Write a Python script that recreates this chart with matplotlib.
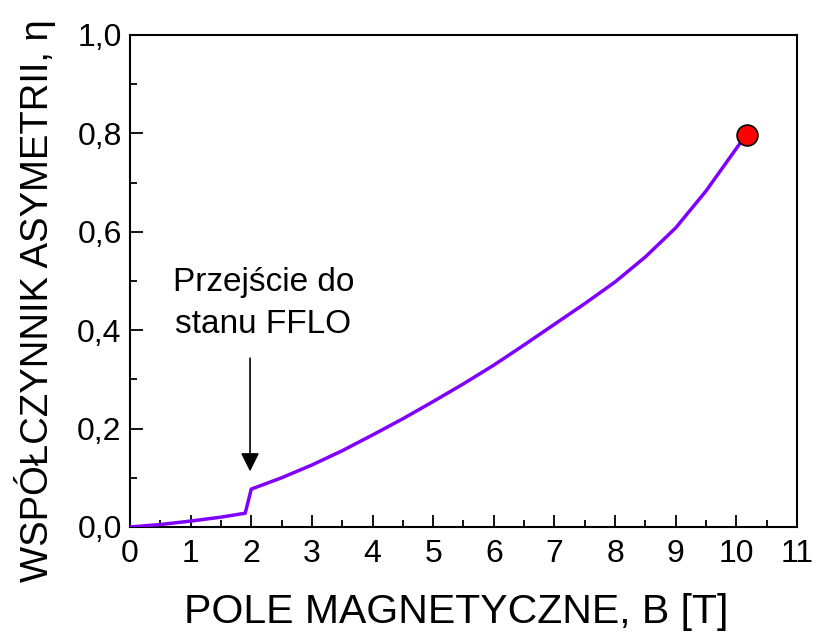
import matplotlib
matplotlib.use("Agg")
import matplotlib.pyplot as plt
from matplotlib.ticker import MultipleLocator, FuncFormatter

plt.rcParams['font.family'] = ['Liberation Sans', 'DejaVu Sans']

# dane
pole_b = [0.0, 0.5, 1.0, 1.5, 1.9, 2.0, 2.5, 3.0, 3.5, 4.0, 4.5, 5.0, 5.5, 6.0,
          6.5, 7.0, 7.5, 8.0, 8.5, 9.0, 9.5, 10.05]
eta = [0.0, 0.005, 0.012, 0.020, 0.028, 0.077, 0.100, 0.126, 0.155, 0.187,
       0.220, 0.255, 0.291, 0.329, 0.370, 0.412, 0.454, 0.498, 0.549, 0.608,
       0.683, 0.778]
punkt_b = [10.17]
punkt_eta = [0.797]

fig = plt.figure(figsize=(8.16, 6.35), dpi=100)
ax = fig.add_axes([0.1593, 0.1701, 0.8174, 0.7748])

ax.plot(pole_b, eta, color='#8000FF', lw=2.5, zorder=3)
ax.plot(punkt_b, punkt_eta, 'o', ms=15, mfc='#FF0000', mec='black', mew=1.2, zorder=4)

ax.annotate('', xy=(1.98, 0.113), xytext=(1.98, 0.343),
            arrowprops=dict(arrowstyle='-|>', color='black', lw=1.2,
                            mutation_scale=28, shrinkA=0, shrinkB=0))
ax.text(2.2, 0.528, 'Przejście do\nstanu FFLO', ha='center', va='top',
        fontsize=24, linespacing=1.45)

ax.set_xlim(0, 11)
ax.set_ylim(0, 1.0)
ax.xaxis.set_major_locator(MultipleLocator(1))
ax.xaxis.set_minor_locator(MultipleLocator(0.5))
ax.yaxis.set_major_locator(MultipleLocator(0.2))
ax.yaxis.set_minor_locator(MultipleLocator(0.1))
ax.yaxis.set_major_formatter(FuncFormatter(lambda v, p: f'{v:.1f}'.replace('.', ',')))
ax.tick_params(which='both', direction='in', width=1.3, labelsize=23)
ax.tick_params(which='major', length=9)
ax.tick_params(which='minor', length=5)
ax.tick_params(axis='x', pad=9)
ax.tick_params(axis='y', pad=6)
for s in ax.spines.values():
    s.set_linewidth(1.5)

ax.set_xlabel('POLE MAGNETYCZNE, B [T]', fontsize=29.5, va='center')
ax.xaxis.set_label_coords(0.489, -0.173)
ax.set_ylabel('WSPÓŁCZYNNIK ASYMETRII, η', fontsize=27.5, va='center')
ax.yaxis.set_label_coords(-0.142, 0.461)

fig.savefig('out.png', dpi=100)
